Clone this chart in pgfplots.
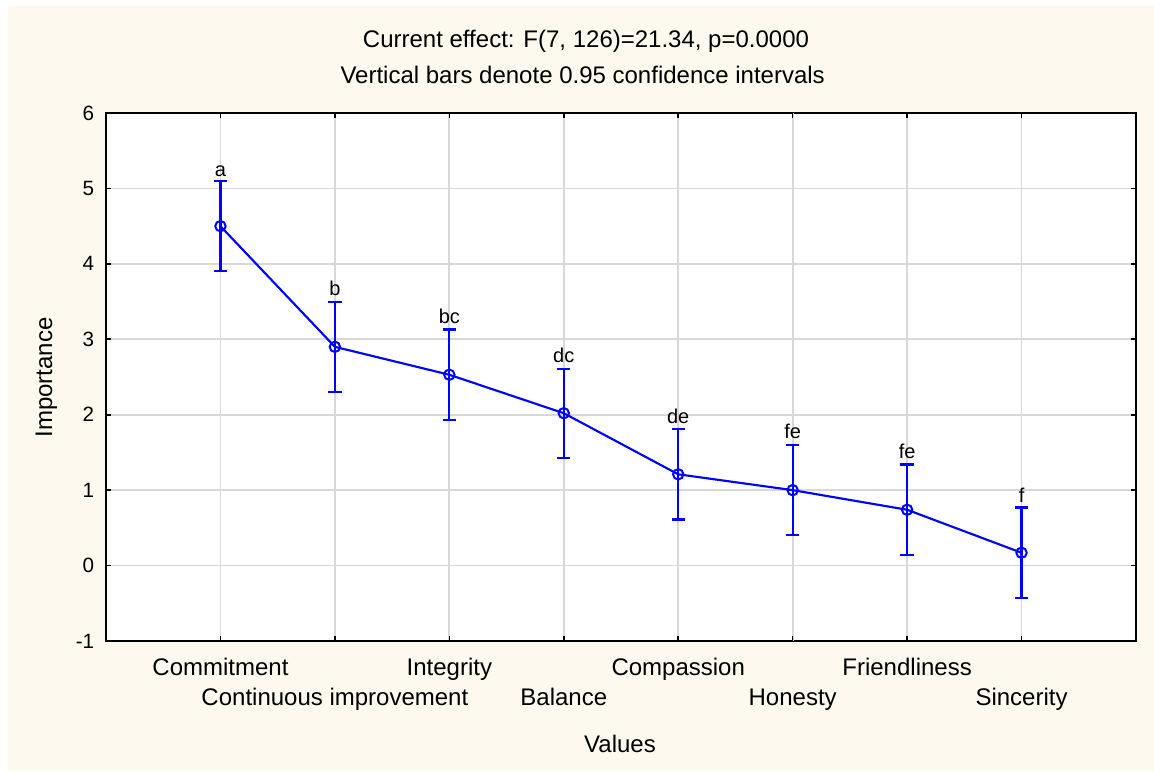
\documentclass[border=0pt]{standalone}
\usepackage{pgfplots}
\pgfplotsset{compat=1.18}
\usepackage{pgfplotstable}
\usepackage{fontspec}
\setmainfont{Liberation Sans}
\definecolor{cream}{RGB}{253,249,239}
\definecolor{gridgray}{RGB}{216,216,216}
\pgfplotstableread{
x y e top lab
1 4.50 0.60 5.08 a
2 2.90 0.60 3.50 b
3 2.53 0.60 3.13 bc
4 2.02 0.59 2.61 dc
5 1.21 0.60 1.81 de
6 1.00 0.60 1.60 fe
7 0.74 0.60 1.34 fe
8 0.17 0.60 0.76 f
}\data
\begin{document}
\begin{tikzpicture}
\fill[white] (0,0) rectangle (865.5pt,579pt);
\fill[cream] (6pt,0.75pt) rectangle (865.5pt,574.5pt);
\begin{axis}[
  at={(79.5pt,98.25pt)}, anchor=south west,
  width=772.5pt, height=396pt, scale only axis,
  axis background/.style={fill=white},
  axis line style={black, line width=1.6pt},
  xmin=0, xmax=9, ymin=-1, ymax=6,
  xtick={1,3,5,7},
  xticklabels={Commitment,Integrity,Compassion,Friendliness},
  extra x ticks={2,4,6,8},
  extra x tick labels={Continuous improvement,Balance,Honesty,Sincerity},
  extra x tick style={grid=major, xticklabel style={yshift=-22.5pt}},
  ytick={-1,0,1,2,3,4,5,6},
  yticklabels={-1,0,1,2,3,4,5,6},
  grid=major,
  major grid style={draw=gridgray, line width=1.3pt},
  tick align=inside,
  major tick length=4pt,
  tick style={black, line width=1.2pt},
  xticklabel style={font=\fontsize{18}{21}\selectfont, anchor=base, yshift=-25.5pt},
  yticklabel style={font=\fontsize{15.5}{18}\selectfont, xshift=-5.3pt},
  clip=false,
]
\addplot[blue, line width=1.6pt, mark=o, mark size=3.9pt,
  mark options={line width=1.5pt},
  error bars/.cd, y dir=both, y explicit,
  error bar style={blue, line width=1.6pt},
  error mark options={blue, rotate=90, mark size=5pt, line width=1.6pt}]
  table[x=x, y=y, y error=e]{\data};
\addplot[draw=none, mark=none, nodes near coords, point meta=explicit symbolic,
  nodes near coords style={font=\fontsize{15}{18}\selectfont, anchor=base, yshift=4.5pt, black}]
  table[x=x, y=top, meta=lab]{\data};
\end{axis}
\node[anchor=base, font=\fontsize{18}{21}\selectfont] at (439.5pt,543pt) {Current effect: F(7, 126)=21.34, p=0.0000};
\node[anchor=base, font=\fontsize{18}{21}\selectfont] at (437pt,516pt) {Vertical bars denote 0.95 confidence intervals};
\node[anchor=base, font=\fontsize{18}{21}\selectfont] at (465pt,15pt) {Values};
\node[anchor=base, rotate=90, font=\fontsize{18}{21}\selectfont] at (39pt,296pt) {Importance};
\end{tikzpicture}
\end{document}
